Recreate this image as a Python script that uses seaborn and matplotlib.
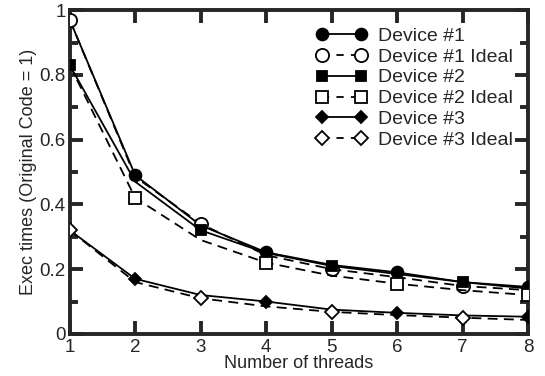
import matplotlib
matplotlib.use("Agg")
import matplotlib.pyplot as plt
from matplotlib.lines import Line2D
from matplotlib.ticker import MultipleLocator, FuncFormatter
import seaborn as sns
import pandas as pd

threads = [1, 2, 3, 4, 5, 6, 7, 8]
dev1 = [0.97, 0.49, 0.335, 0.252, 0.213, 0.19, 0.16, 0.145]
dev1_ideal = [0.97, 0.485, 0.34, 0.243, 0.20, 0.175, 0.148, 0.135]
dev2 = [0.83, 0.47, 0.32, 0.25, 0.21, 0.185, 0.16, 0.14]
dev2_ideal = [0.83, 0.42, 0.29, 0.22, 0.18, 0.155, 0.135, 0.12]
dev3 = [0.32, 0.17, 0.12, 0.10, 0.075, 0.065, 0.057, 0.053]
dev3_ideal = [0.32, 0.16, 0.11, 0.085, 0.068, 0.058, 0.05, 0.043]
labels = ["Device #1", "Device #1 Ideal", "Device #2", "Device #2 Ideal",
          "Device #3", "Device #3 Ideal"]

sns.set_style("ticks")
plt.rcParams['font.family'] = ['Liberation Sans', 'DejaVu Sans']

fig = plt.figure(figsize=(5.45, 3.76), dpi=100)
ax = fig.add_axes([0.128, 0.112, 0.841, 0.861])

series = [dev1, dev1_ideal, dev2, dev2_ideal, dev3, dev3_ideal]
markers = ['o', 'o', 's', 's', 'D', 'D']
filled = [True, False, True, False, True, False]
msizes = [8.5, 9.5, 7.2, 8.3, 6.0, 6.7]
every = [slice(1, None, 2), slice(0, None, 2), slice(0, None, 2),
         slice(1, None, 2), slice(1, None, 2), slice(0, None, 2)]
dash = (0, (5.5, 3.5))

handles = []
for vals, lab, m, f, ms, ev in zip(series, labels, markers, filled, msizes, every):
    df = pd.DataFrame({"x": threads, "y": vals})
    ls = '-' if f else dash
    sns.lineplot(data=df, x="x", y="y", ax=ax, color='black', linewidth=1.3,
                 linestyle=ls, marker=m, markersize=ms, markevery=ev,
                 markerfacecolor='black' if f else 'white',
                 markeredgecolor='black', markeredgewidth=1.3, zorder=3)
    handles.append(Line2D([0], [0], color='black', linewidth=1.3,
                          linestyle='-' if f else (0, (4, 4)),
                          marker=m, markersize=ms,
                          markerfacecolor='black' if f else 'white',
                          markeredgecolor='black', markeredgewidth=1.3))

ax.set_xlim(1, 8)
ax.set_ylim(0, 1)
ax.xaxis.set_major_locator(MultipleLocator(1))
ax.yaxis.set_major_locator(MultipleLocator(0.2))
ax.yaxis.set_minor_locator(MultipleLocator(0.1))
ax.yaxis.set_major_formatter(FuncFormatter(lambda v, p: "%g" % round(v, 2)))

for s in ax.spines.values():
    s.set_linewidth(2.8)
    s.set_visible(True)
ax.tick_params(which='major', direction='in', length=9.5, width=2.8,
               top=True, right=True, labelsize=13.5, pad=2)
ax.tick_params(which='minor', direction='in', length=6, width=2.8,
               left=True, right=True)
ax.tick_params(axis='x', which='major', pad=4)
ax.tick_params(axis='y', which='major', pad=3)

ax.set_xlabel("Number of threads", fontsize=13, labelpad=-1)
ax.set_ylabel("Exec times (Original Code = 1)", fontsize=13, labelpad=2)

leg = ax.legend(handles, labels, loc='upper right', bbox_to_anchor=(0.975, 0.96),
                frameon=False, numpoints=2, handlelength=2.6, handletextpad=0.55,
                labelspacing=0.17, borderpad=0.2, borderaxespad=0.0, fontsize=14)

fig.savefig("out.png", dpi=100)
